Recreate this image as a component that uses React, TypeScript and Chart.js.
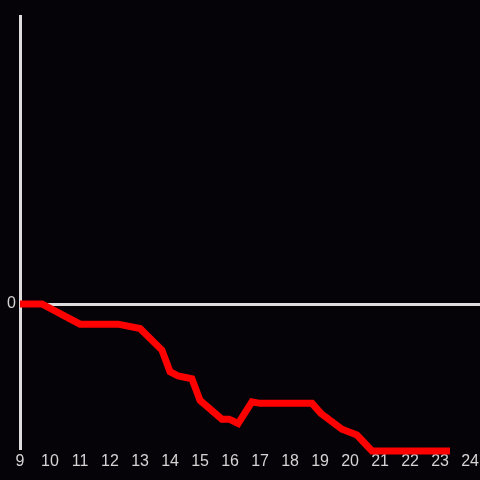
import React, { useEffect, useRef } from "react";
import { Chart, registerables } from "chart.js";

Chart.register(...registerables);

const hours = [9, 9.73, 11, 12.27, 13, 13.73, 14, 14.27, 14.73, 15, 15.73, 15.97, 16.27, 16.73, 17, 18.73, 19.03, 19.73, 20.23, 20.73, 23.33];
const values = [0, 0, -0.14, -0.14, -0.17, -0.32, -0.47, -0.5, -0.52, -0.67, -0.8, -0.8, -0.83, -0.68, -0.69, -0.69, -0.76, -0.87, -0.91, -1.02, -1.02];
const xTicks = [9, 10, 11, 12, 13, 14, 15, 16, 17, 18, 19, 20, 21, 22, 23, 24];
const yTicks = [0];

export default function App() {
  const ref = useRef<HTMLCanvasElement>(null);
  useEffect(() => {
    document.body.style.margin = "0";
    const chart = new Chart(ref.current!, {
      type: "line",
      data: {
        datasets: [
          {
            data: hours.map((h, i) => ({ x: h, y: values[i] })),
            borderColor: "#ff0000",
            borderWidth: 7,
            pointRadius: 0,
            tension: 0,
            fill: false,
            clip: false as any,
          },
        ],
      },
      options: {
        animation: false,
        responsive: false,
        maintainAspectRatio: false,
        layout: { padding: { top: 16, right: 0, bottom: 0, left: 0 } },
        plugins: { legend: { display: false }, tooltip: { enabled: false } },
        scales: {
          x: {
            type: "linear",
            min: 9,
            max: 24.33,
            afterBuildTicks: (s: any) => {
              s.ticks = xTicks.map((v) => ({ value: v }));
            },
            afterFit: (s: any) => {
              s.height = 32;
              s.paddingRight = 0;
              s.paddingLeft = 0;
            },
            grid: { display: false, drawTicks: false },
            border: { display: false },
            ticks: {
              color: "#d4d4d4",
              font: { family: "Liberation Sans", size: 16 },
              padding: 4,
              maxRotation: 0,
              autoSkip: false,
            },
          },
          y: {
            type: "linear",
            min: -1,
            max: 2,
            afterBuildTicks: (s: any) => {
              s.ticks = yTicks.map((v) => ({ value: v }));
            },
            afterFit: (s: any) => {
              s.width = 20;
              s.paddingTop = 0;
              s.paddingBottom = 0;
            },
            grid: { color: "#dddddd", lineWidth: 3, drawTicks: false },
            border: { display: true, color: "#dddddd", width: 3 },
            ticks: {
              color: "#d4d4d4",
              font: { family: "Liberation Sans", size: 16 },
              padding: 4,
            },
          },
        },
      },
    });
    return () => chart.destroy();
  }, []);
  return (
    <div style={{ position: "fixed", left: 0, top: 0, width: 480, height: 480, background: "#050307" }}>
      <canvas ref={ref} width={480} height={480} style={{ display: "block" }} />
    </div>
  );
}
